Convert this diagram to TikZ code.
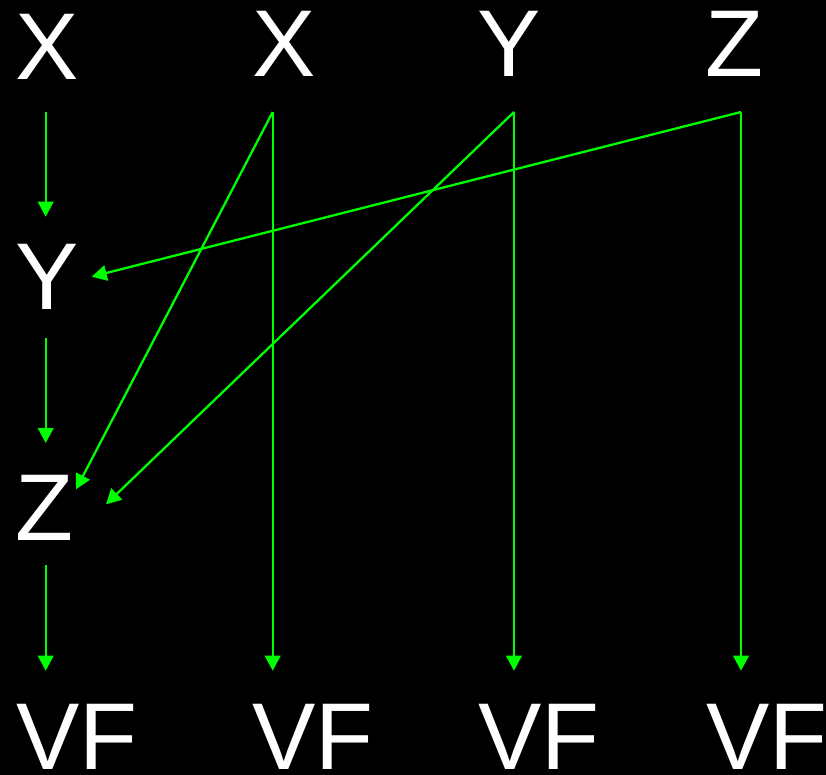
\documentclass[tikz,border=0pt]{standalone}
\usepackage{fontspec}
\setmainfont{Liberation Sans}
\usepackage{xcolor}
\usepackage{tikz}
\usetikzlibrary{arrows.meta}
\definecolor{vfgreen}{RGB}{0,255,0}

\begin{document}
\begin{tikzpicture}[
 x=0.02cm,y=-0.02cm,
 lbl/.style={text=white,inner sep=0pt,font=\fontsize{54}{60}\selectfont},
 arr/.style={-{Triangle[length=3mm,width=3.1mm]},draw=vfgreen,fill=vfgreen,line width=1.3pt}
]
\fill[black] (0,0) rectangle (826,775);
\useasboundingbox (0,0) rectangle (826,775);

% top row
\node[lbl] (xa) at (47.5,47) {X};
\node[lbl] (xb) at (283.7,44) {X};
\node[lbl] (yc) at (509.5,44) {Y};
\node[lbl] (zd) at (734,44) {Z};
% left column
\node[lbl] (ya) at (47.5,277) {Y};
\node[lbl] (za) at (44.7,508) {Z};
% bottom row
\node[lbl] (vf1) at (77,737) {VF};
\node[lbl] (vf2) at (313,737) {VF};
\node[lbl] (vf3) at (539,737) {VF};
\node[lbl] (vf4) at (767,737) {VF};

% arrow ends
\coordinate (xa-o) at (45.7,112);
\coordinate (ya-i) at (45.7,216.7);
\coordinate (ya-o) at (45.7,338);
\coordinate (za-i) at (45.7,443);
\coordinate (za-o) at (45.7,565);
\coordinate (vf1-i) at (45.7,670.7);
\coordinate (xb-o) at (272.7,112);
\coordinate (vf2-i) at (272.7,670.7);
\coordinate (yc-o) at (514,112);
\coordinate (vf3-i) at (514,670.7);
\coordinate (zd-o) at (741,112);
\coordinate (vf4-i) at (741,670.7);
\coordinate (ya-r) at (91.7,276.7);
\coordinate (za-r1) at (76,489.3);
\coordinate (za-r2) at (106,504.3);

\draw[arr] (xa-o)--(ya-i);
\draw[arr] (ya-o)--(za-i);
\draw[arr] (za-o)--(vf1-i);
\draw[arr] (xb-o)--(vf2-i);
\draw[arr] (yc-o)--(vf3-i);
\draw[arr] (zd-o)--(vf4-i);
\draw[arr] (xb-o)--(za-r1);
\draw[arr] (yc-o)--(za-r2);
\draw[arr] (zd-o)--(ya-r);
\end{tikzpicture}
\end{document}
